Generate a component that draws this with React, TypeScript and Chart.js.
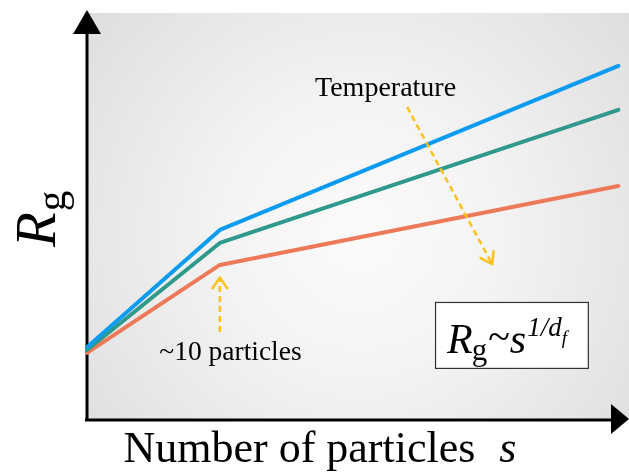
import React, { useEffect, useRef } from "react";
import { Chart, registerables } from "chart.js";

Chart.register(...registerables);

// x: log10 of number of particles s (arbitrary units), y: Rg (arbitrary units)
const logS = [0, 1, 4];
const rgHighT = [1.79, 4.67, 8.7];
const rgMidT = [1.72, 4.35, 7.62];
const rgLowT = [1.65, 3.81, 5.75];
const seriesLabels = ["Temperature high", "Temperature mid", "Temperature low"];
const seriesColors = ["#0b9cf2", "#2f9a8b", "#ec7a5a"];

const xAxisTitle = "Number of particles";
const xAxisSymbol = "s";
const temperatureLabel = "Temperature";
const thresholdLabel = "~10 particles";

// annotation anchors in data units
const temperatureArrow = { x0: 2.41, y0: 7.69, x1: 3.05, y1: 3.83 };
const temperatureText = { x: 2.24, y: 7.96 };
const thresholdArrow = { x0: 1.0, y0: 2.16, x1: 1.0, y1: 3.5 };
const thresholdText = { x: 1.08, y: 1.47 };
const formulaBox = { x0: 2.62, x1: 3.77, y0: 1.28, y1: 2.9 };

const SERIF = '"Liberation Serif", "Times New Roman", serif';
const ARROW_YELLOW = "#fbc21e";

function dashedArrow(ctx: CanvasRenderingContext2D, x0: number, y0: number, x1: number, y1: number) {
  ctx.save();
  ctx.strokeStyle = ARROW_YELLOW;
  ctx.lineWidth = 2.5;
  ctx.setLineDash([6, 4]);
  ctx.beginPath();
  ctx.moveTo(x0, y0);
  ctx.lineTo(x1, y1);
  ctx.stroke();
  ctx.setLineDash([]);
  const ang = Math.atan2(y1 - y0, x1 - x0);
  const len = 13;
  const spread = 0.6;
  ctx.lineCap = "round";
  ctx.lineJoin = "round";
  ctx.beginPath();
  ctx.moveTo(x1 - len * Math.cos(ang - spread), y1 - len * Math.sin(ang - spread));
  ctx.lineTo(x1, y1);
  ctx.lineTo(x1 - len * Math.cos(ang + spread), y1 - len * Math.sin(ang + spread));
  ctx.stroke();
  ctx.restore();
}

const decorPlugin = {
  id: "decor",
  beforeDatasetsDraw(chart: any) {
    const { ctx, chartArea } = chart;
    const { left, top, right, bottom } = chartArea;
    ctx.save();
    const g = ctx.createRadialGradient(360, 235, 0, 360, 235, 380);
    g.addColorStop(0, "#fbfbfb");
    g.addColorStop(0.35, "#f4f4f4");
    g.addColorStop(1, "#dbdbdb");
    ctx.fillStyle = g;
    ctx.fillRect(left + 1, top, right - left, bottom - top);

    // axes
    ctx.strokeStyle = "#000";
    ctx.fillStyle = "#000";
    ctx.lineWidth = 3;
    ctx.beginPath();
    ctx.moveTo(left, bottom);
    ctx.lineTo(left, top + 20);
    ctx.stroke();
    ctx.beginPath();
    ctx.moveTo(left - 2, bottom);
    ctx.lineTo(right - 16, bottom);
    ctx.stroke();
    // y arrow head
    ctx.beginPath();
    ctx.moveTo(left, top - 3);
    ctx.lineTo(left - 14, top + 21);
    ctx.lineTo(left + 14, top + 21);
    ctx.closePath();
    ctx.fill();
    // x arrow head
    ctx.beginPath();
    ctx.moveTo(right, bottom - 1);
    ctx.lineTo(right - 18, bottom - 16);
    ctx.lineTo(right - 18, bottom + 14);
    ctx.closePath();
    ctx.fill();
    ctx.restore();
  },
  afterDatasetsDraw(chart: any) {
    const { ctx, scales } = chart;
    const xs = (v: number) => scales.x.getPixelForValue(v);
    const ys = (v: number) => scales.y.getPixelForValue(v);
    ctx.save();

    // annotation arrows
    dashedArrow(ctx, xs(temperatureArrow.x0), ys(temperatureArrow.y0), xs(temperatureArrow.x1), ys(temperatureArrow.y1));
    dashedArrow(ctx, xs(thresholdArrow.x0), ys(thresholdArrow.y0), xs(thresholdArrow.x1), ys(thresholdArrow.y1));

    ctx.fillStyle = "#000";
    ctx.textAlign = "center";
    ctx.textBaseline = "alphabetic";
    ctx.font = `28px ${SERIF}`;
    ctx.fillText(temperatureLabel, xs(temperatureText.x) + 1, ys(temperatureText.y));
    ctx.font = `27.5px ${SERIF}`;
    ctx.fillText(thresholdLabel, xs(thresholdText.x), ys(thresholdText.y));

    // formula box
    const bx0 = xs(formulaBox.x0), bx1 = xs(formulaBox.x1);
    const by0 = ys(formulaBox.y1), by1 = ys(formulaBox.y0);
    ctx.fillStyle = "#fff";
    ctx.fillRect(bx0, by0, bx1 - bx0, by1 - by0);
    ctx.strokeStyle = "#333";
    ctx.lineWidth = 1.2;
    ctx.strokeRect(bx0 + 0.5, by0 + 0.5, bx1 - bx0, by1 - by0);

    ctx.fillStyle = "#000";
    ctx.textAlign = "left";
    const base = by0 + 51;
    let cx = bx0 + 12;
    const seg = (t: string, font: string, dy: number, dx = 0) => {
      ctx.font = font;
      cx += dx;
      ctx.fillText(t, cx, base + dy);
      cx += ctx.measureText(t).width;
    };
    seg("R", `italic 42px ${SERIF}`, 0);
    seg("g", `31px ${SERIF}`, 7, -1);
    seg("~", `40px ${SERIF}`, -3, 1);
    seg("s", `italic 42px ${SERIF}`, 0, 0);
    seg("1/d", `italic 27px ${SERIF}`, -17, 1);
    seg("f", `italic 19px ${SERIF}`, -9);

    // axis titles
    ctx.textAlign = "left";
    ctx.font = `44px ${SERIF}`;
    const xt = xAxisTitle;
    const wt = ctx.measureText(xt).width;
    ctx.font = `italic 44px ${SERIF}`;
    const ws = ctx.measureText(xAxisSymbol).width;
    const gap = 24;
    const total = wt + gap + ws;
    const startX = 320 - total / 2;
    ctx.font = `44px ${SERIF}`;
    ctx.fillText(xt, startX, 462);
    ctx.font = `italic 44px ${SERIF}`;
    ctx.fillText(xAxisSymbol, startX + wt + gap, 462);

    // y title rotated
    ctx.save();
    ctx.translate(55, 247);
    ctx.rotate(-Math.PI / 2);
    ctx.font = `italic 57px ${SERIF}`;
    ctx.fillText("R", 0, 0);
    const wr = ctx.measureText("R").width;
    ctx.font = `41px ${SERIF}`;
    ctx.fillText("g", wr + 1, 10);
    ctx.restore();

    ctx.restore();
  },
};

export default function App() {
  const ref = useRef<HTMLCanvasElement | null>(null);
  useEffect(() => {
    if (!ref.current) return;
    const series = [rgHighT, rgMidT, rgLowT];
    const chart = new Chart(ref.current, {
      type: "line",
      data: {
        datasets: series.map((vals, i) => ({
          label: seriesLabels[i],
          data: logS.map((x, j) => ({ x, y: vals[j] })),
          borderColor: seriesColors[i],
          backgroundColor: seriesColors[i],
          borderWidth: 4,
          pointRadius: 0,
          tension: 0,
          borderCapStyle: "round" as const,
          borderJoinStyle: "round" as const,
          clip: 6,
        })),
      },
      options: {
        responsive: false,
        animation: false,
        layout: { padding: { left: 87, top: 13, right: 0, bottom: 56 } },
        plugins: { legend: { display: false }, tooltip: { enabled: false }, title: { display: false } },
        scales: {
          x: { type: "linear", min: 0, max: 4.08, display: false },
          y: { type: "linear", min: 0, max: 10, display: false },
        },
      },
      plugins: [decorPlugin],
    });
    return () => chart.destroy();
  }, []);
  return (
    <div style={{ position: "fixed", left: 0, top: 0, width: 629, height: 476, background: "#fff" }}>
      <canvas ref={ref} width={629} height={476} />
    </div>
  );
}
